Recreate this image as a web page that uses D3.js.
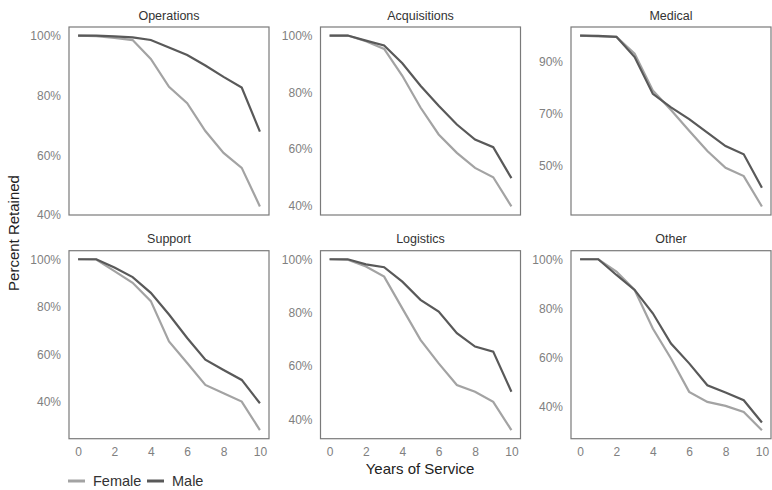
<!DOCTYPE html>
<meta charset="utf-8">
<script src="https://d3js.org/d3.v7.min.js"></script>
<style>
  body { margin: 0; background: #fff; }
  text { font-family: "Liberation Sans", Arial, sans-serif; }
</style>
<div id="chart"></div>
<script>

// panels and years
var panels = ["Operations", "Acquisitions", "Medical", "Support", "Logistics", "Other"];
var years = [0, 1, 2, 3, 4, 5, 6, 7, 8, 9, 10];
var xTicks = [0, 2, 4, 6, 8, 10];

// percent retained
var female = {
  Operations:   [100, 99.8, 99.2, 98.5, 92.2, 82.9, 77.4, 68.1, 60.8, 55.8, 42.9],
  Acquisitions: [100, 100, 98.0, 95.3, 85.8, 74.6, 65.1, 58.6, 53.3, 50.0, 39.7],
  Medical:      [100, 99.7, 99.5, 93.0, 78.8, 71.3, 63.3, 55.5, 49.0, 45.8, 34.1],
  Support:      [100, 99.9, 95.0, 90.1, 82.4, 65.5, 56.4, 47.2, 43.7, 40.2, 28.2],
  Logistics:    [100, 99.8, 97.3, 93.5, 81.6, 69.8, 61.0, 52.9, 50.4, 46.6, 36.0],
  Other:        [100, 100, 95.0, 87.5, 71.8, 59.6, 46.0, 41.9, 40.3, 37.8, 30.4]
};
var male = {
  Operations:   [100, 100, 99.7, 99.4, 98.5, 96.0, 93.5, 90.0, 86.2, 82.6, 67.9],
  Acquisitions: [100, 100, 98.2, 96.5, 90.2, 82.3, 75.2, 68.6, 63.3, 60.6, 49.7],
  Medical:      [100, 99.9, 99.5, 91.7, 77.5, 72.3, 67.8, 62.6, 57.4, 54.2, 41.3],
  Support:      [100, 100, 96.5, 92.5, 85.9, 76.8, 66.9, 57.8, 53.5, 49.3, 39.5],
  Logistics:    [100, 100, 98.1, 97.0, 91.6, 84.8, 80.4, 72.3, 67.3, 65.4, 50.4],
  Other:        [100, 100, 93.6, 87.5, 78.0, 65.7, 57.6, 48.7, 45.7, 42.6, 33.5]
};

// y tick labels for each panel
var yTicks = {
  Operations:   [40, 60, 80, 100],
  Acquisitions: [40, 60, 80, 100],
  Medical:      [50, 70, 90],
  Support:      [40, 60, 80, 100],
  Logistics:    [40, 60, 80, 100],
  Other:        [40, 60, 80, 100]
};

var femaleColor = "#a3a3a3",
    maleColor = "#595959";

var svg = d3.select("#chart")
  .append("svg")
    .attr("width", 772)
    .attr("height", 490);

var panelW = 200, panelH = 188;
var lefts = [69, 320.5, 571],
    tops = [27, 250.7];

panels.forEach(function(name, i) {
  var col = i % 3, row = Math.floor(i / 3);
  var g = svg.append("g")
    .attr("transform", "translate(" + lefts[col] + "," + tops[row] + ")");

  var x = d3.scaleLinear().domain([-0.5, 10.5]).range([0, panelW]);

  // free y scale with 5% padding, like ggplot
  var all = female[name].concat(male[name]);
  var lo = d3.min(all), hi = d3.max(all), pad = (hi - lo) * 0.05;
  var y = d3.scaleLinear().domain([lo - pad, hi + pad]).range([panelH, 0]);

  g.append("text")
    .attr("x", panelW / 2)
    .attr("y", -7.5)
    .attr("text-anchor", "middle")
    .style("font-size", "12.5px")
    .style("fill", "#333")
    .text(name);

  var ya = g.append("g")
    .call(d3.axisLeft(y).tickValues(yTicks[name]).tickSize(0).tickPadding(8)
      .tickFormat(function(d) { return d + "%"; }));
  ya.select(".domain").remove();
  ya.selectAll("text").style("font-size", "12px").style("fill", "#808080")
    .style("font-family", "Liberation Sans, Arial, sans-serif");

  if (row == 1) {
    var xa = g.append("g")
      .attr("transform", "translate(0," + panelH + ")")
      .call(d3.axisBottom(x).tickValues(xTicks).tickSize(0).tickPadding(9));
    xa.select(".domain").remove();
    xa.selectAll("text").style("font-size", "12px").style("fill", "#808080")
      .style("font-family", "Liberation Sans, Arial, sans-serif");
  }

  var line = d3.line()
    .x(function(d, j) { return x(years[j]); })
    .y(function(d) { return y(d); });

  g.append("path")
    .datum(female[name])
    .attr("d", line)
    .attr("fill", "none")
    .attr("stroke", femaleColor)
    .attr("stroke-width", 2.2);

  g.append("path")
    .datum(male[name])
    .attr("d", line)
    .attr("fill", "none")
    .attr("stroke", maleColor)
    .attr("stroke-width", 2.2);

  g.append("rect")
    .attr("width", panelW)
    .attr("height", panelH)
    .attr("fill", "none")
    .attr("stroke", "#7a7a7a")
    .attr("stroke-width", 1.2);
});

// axis titles
svg.append("text")
  .attr("x", 420)
  .attr("y", 474)
  .attr("text-anchor", "middle")
  .style("font-size", "15px")
  .style("fill", "#222")
  .text("Years of Service");

svg.append("text")
  .attr("transform", "translate(19,233) rotate(-90)")
  .attr("text-anchor", "middle")
  .style("font-size", "15px")
  .style("fill", "#222")
  .text("Percent Retained");

// legend
var legend = [
  {label: "Female", color: femaleColor, x: 68},
  {label: "Male", color: maleColor, x: 147}
];
legend.forEach(function(d) {
  svg.append("line")
    .attr("x1", d.x).attr("x2", d.x + 17)
    .attr("y1", 481).attr("y2", 481)
    .attr("stroke", d.color)
    .attr("stroke-width", 3);
  svg.append("text")
    .attr("x", d.x + 25)
    .attr("y", 486)
    .style("font-size", "14.5px")
    .style("fill", "#333")
    .text(d.label);
});
</script>
